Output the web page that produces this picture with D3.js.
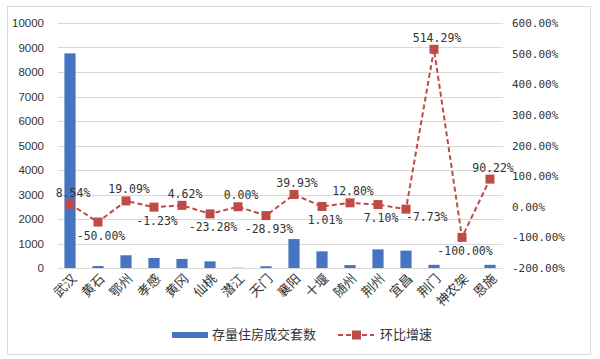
<!DOCTYPE html>
<html>
<head>
<meta charset="utf-8">
<script src="https://d3js.org/d3.v7.min.js"></script>
<style>
  body { margin: 0; background: #fff; overflow: hidden; }
  svg text { user-select: none; }
</style>
</head>
<body>
<svg id="chart"></svg>
<script>
// data
const cities = ["武汉", "黄石", "鄂州", "孝感", "黄冈", "仙桃", "潜江", "天门",
                "襄阳", "十堰", "随州", "荆州", "宜昌", "荆门", "神农架", "恩施"];
const deals = [8760, 80, 520, 410, 370, 270, 10, 70,
               1180, 680, 120, 760, 710, 130, 0, 130];
const growth = [8.54, -50.00, 19.09, -1.23, 4.62, -23.28, 0.00, -28.93,
                39.93, 1.01, 12.80, 7.10, -7.73, 514.29, -100.00, 90.22];
// where each percentage label sits: a = above, b = below, r = right
const labelSide = ["a", "b", "a", "b", "a", "b", "a", "b",
                   "a", "b", "a", "b", "r", "a", "b", "a"];
const leftTicks = d3.range(0, 10001, 1000);
const rightTicks = d3.range(-200, 601, 100);

const width = 600, height = 359;
const barColor = "#4674c1", lineColor = "#be4b48", gridColor = "#d9d9d9";

const svg = d3.select("#chart").attr("width", width).attr("height", height);

svg.append("rect")
    .attr("x", 7.5).attr("y", 6.5)
    .attr("width", 583).attr("height", 348)
    .attr("fill", "#fff").attr("stroke", gridColor);

const plot = { left: 56, right: 504, top: 23, bottom: 268 };

const x = d3.scaleBand().domain(cities).range([plot.left, plot.right]).paddingInner(0.6).paddingOuter(0.3);
const yL = d3.scaleLinear().domain([0, 10000]).range([plot.bottom, plot.top]);
const yR = d3.scaleLinear().domain([-200, 600]).range([plot.bottom, plot.top]);
const cx = d => x(d) + x.bandwidth() / 2;

// gridlines
svg.append("g")
    .selectAll("line")
    .data(leftTicks)
    .enter().append("line")
    .attr("x1", plot.left + 2).attr("x2", plot.right - 1)
    .attr("y1", d => Math.round(yL(d)) + 0.5)
    .attr("y2", d => Math.round(yL(d)) + 0.5)
    .attr("stroke", gridColor).attr("stroke-width", 1);

// left axis
const leftAxis = svg.append("g")
    .attr("transform", `translate(${plot.left - 12},0)`)
    .call(d3.axisLeft(yL).tickValues(leftTicks).tickSize(0).tickPadding(0)
        .tickFormat(d3.format("d")));
leftAxis.select(".domain").remove();
leftAxis.selectAll("text")
    .attr("font-family", "Liberation Sans, Arial, sans-serif")
    .attr("font-size", "11.5px").attr("fill", "#333");

// right axis
const rightAxis = svg.append("g")
    .attr("transform", `translate(${plot.right + 8},0)`)
    .call(d3.axisRight(yR).tickValues(rightTicks).tickSize(0).tickPadding(0)
        .tickFormat(d => d.toFixed(2) + "%"));
rightAxis.select(".domain").remove();
rightAxis.selectAll("text")
    .attr("font-family", "DejaVu Sans Mono, monospace")
    .attr("font-size", "11px").attr("fill", "#333");

// bars
svg.append("g")
    .selectAll("rect")
    .data(deals)
    .enter().append("rect")
    .attr("x", (d, i) => x(cities[i]))
    .attr("width", x.bandwidth())
    .attr("y", d => yL(d))
    .attr("height", d => plot.bottom - yL(d))
    .attr("fill", barColor);

// x labels
svg.append("g")
    .selectAll("text")
    .data(cities)
    .enter().append("text")
    .attr("transform", d => `translate(${cx(d) + 5},${plot.bottom + 9}) rotate(-45)`)
    .attr("text-anchor", "end")
    .attr("dominant-baseline", "middle")
    .attr("font-family", "Noto Sans CJK SC, sans-serif")
    .attr("font-size", "13px").attr("fill", "#333")
    .text(d => d);

// line
const line = d3.line()
    .x((d, i) => cx(cities[i]))
    .y(d => yR(d));

svg.append("path")
    .datum(growth)
    .attr("d", line)
    .attr("fill", "none")
    .attr("stroke", lineColor)
    .attr("stroke-width", 2)
    .attr("stroke-dasharray", "5,3");

svg.append("g")
    .selectAll("rect")
    .data(growth)
    .enter().append("rect")
    .attr("x", (d, i) => cx(cities[i]) - 4.5)
    .attr("y", d => yR(d) - 4.5)
    .attr("width", 9).attr("height", 9)
    .attr("fill", lineColor);

// value labels
svg.append("g")
    .selectAll("text")
    .data(growth)
    .enter().append("text")
    .attr("x", (d, i) => labelSide[i] === "r" ? cx(cities[i]) : cx(cities[i]) + 3)
    .attr("y", (d, i) => {
        const s = labelSide[i];
        if (s === "a") return yR(d) - 11;
        if (s === "b") return yR(d) + 14;
        return yR(d) + 8;
    })
    .attr("text-anchor", (d, i) => labelSide[i] === "r" ? "start" : "middle")
    .attr("dominant-baseline", "middle")
    .attr("font-family", "DejaVu Sans Mono, monospace")
    .attr("font-size", "11.5px").attr("fill", "#333")
    .text(d => d.toFixed(2) + "%");

// legend
const legend = svg.append("g").attr("transform", "translate(0,335)");
legend.append("rect")
    .attr("x", 172).attr("y", -3).attr("width", 36).attr("height", 6)
    .attr("fill", barColor);
legend.append("text")
    .attr("x", 212).attr("y", 0)
    .attr("dominant-baseline", "middle")
    .attr("font-family", "Noto Sans CJK SC, sans-serif")
    .attr("font-size", "13px").attr("fill", "#333")
    .text("存量住房成交套数");
legend.append("line")
    .attr("x1", 338).attr("x2", 374).attr("y1", 0).attr("y2", 0)
    .attr("stroke", lineColor).attr("stroke-width", 2)
    .attr("stroke-dasharray", "5,3");
legend.append("rect")
    .attr("x", 352).attr("y", -4.5).attr("width", 9).attr("height", 9)
    .attr("fill", lineColor);
legend.append("text")
    .attr("x", 380).attr("y", 0)
    .attr("dominant-baseline", "middle")
    .attr("font-family", "Noto Sans CJK SC, sans-serif")
    .attr("font-size", "13px").attr("fill", "#333")
    .text("环比增速");
</script>
</body>
</html>
